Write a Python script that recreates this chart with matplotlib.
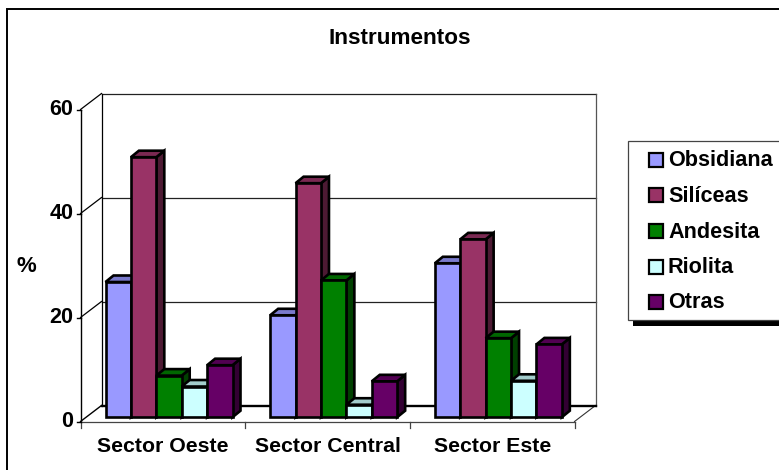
import matplotlib
matplotlib.use("Agg")
import matplotlib.pyplot as plt
from matplotlib.patches import Polygon, Rectangle

plt.rcParams['font.family'] = ['Liberation Sans', 'DejaVu Sans']
plt.rcParams['font.weight'] = 'bold'

title = "Instrumentos"
ylabel = "%"
categories = ["Sector Oeste", "Sector Central", "Sector Este"]
series_names = ["Obsidiana", "Silíceas", "Andesita", "Riolita", "Otras"]
obsidiana = [26.0, 19.6, 29.6]
siliceas = [50.0, 45.0, 34.2]
andesita = [8.0, 26.3, 15.2]
riolita = [5.9, 2.4, 7.0]
otras = [10.0, 6.9, 14.0]
yticks = [0, 20, 40, 60]
front = ["#9999FF", "#993366", "#008000", "#CCFFFF", "#660066"]
top_c = ["#7A7ACC", "#7A2952", "#006600", "#A3CCCC", "#520052"]
side_c = ["#4D4D80", "#4D1A33", "#004000", "#668080", "#330033"]

W, H = 779, 470
fig = plt.figure(figsize=(W/100, H/100), dpi=100)
px = lambda x, y, w, h: [x/W, 1-(y+h)/H, w/W, h/H]

# page layer in pixel units for frame and legend
bg = fig.add_axes([0, 0, 1, 1])
bg.set_xlim(0, W); bg.set_ylim(H, 0); bg.axis('off')
bg.plot([7.5, 7.5, W], [H, 8.5, 8.5], color='black', lw=1.4, solid_joinstyle='miter')

L, R, T, B = 80.5, 574.5, 109.5, 421.5
ax = fig.add_axes(px(L, T, R-L, B-T))
ax.set_xlim(0, 3); ax.set_ylim(0, 60); ax.axis('off')
sx = 3/(R-L); sy = 60/(B-T)
dX, dY = 21*sx, 16*sy          # wall depth
bX, bY = 8*sx, 6.5*sy          # bar depth
base = 4.3*sy
bw = 25.4*sx
start = 25*sx

# walls
for v in yticks[1:]:
    ax.plot([dX, 3+dX], [v+dY, v+dY], color='#222222', lw=0.9, clip_on=False, zorder=1)
    ax.plot([0, dX], [v, v+dY], color='black', lw=0.9, clip_on=False, zorder=1)
ax.plot([dX, dX], [dY, 60+dY], color='black', lw=0.9, clip_on=False, zorder=1)
ax.plot([3+dX, 3+dX], [dY, 60+dY], color='#555555', lw=0.9, clip_on=False, zorder=1)
ax.plot([0, 0], [0, 60], color='black', lw=1.0, clip_on=False, zorder=1)
ax.plot([0, dX], [0, dY], color='black', lw=1.0, clip_on=False, zorder=1)
ax.plot([3, 3+dX], [0, dY], color='#333333', lw=0.8, clip_on=False, zorder=1)
ax.plot([dX, 3+dX], [dY, dY], color='black', lw=1.7, clip_on=False, zorder=1)
ax.plot([0, 3], [0, 0], color='#444444', lw=0.9, clip_on=False, zorder=1)
for i in range(4):
    ax.plot([i, i], [0, -6*sy], color='#444444', lw=0.9, clip_on=False, zorder=1)
for v in yticks:
    ax.plot([0, -4*sx], [v, v], color='black', lw=1.0, clip_on=False, zorder=1)
    ax.text(-7*sx, v, str(v), ha='right', va='center', fontsize=15.5, clip_on=False)

# bars
series = [obsidiana, siliceas, andesita, riolita, otras]
ek = dict(ec='black', lw=1.9, joinstyle='miter', clip_on=False, zorder=3)
for i in range(3):
    for j, vals in enumerate(series):
        x0 = i + start + j*bw
        x1 = x0 + bw
        y0 = base
        y1 = base + vals[i]
        ax.add_patch(Polygon([(x1, y0), (x1+bX, y0+bY), (x1+bX, y1+bY), (x1, y1)], fc=side_c[j], **ek))
        ax.add_patch(Polygon([(x0, y1), (x0+bX, y1+bY), (x1+bX, y1+bY), (x1, y1)], fc=top_c[j], **ek))
        ax.add_patch(Polygon([(x0, y0), (x1, y0), (x1, y1), (x0, y1)], fc=front[j], **ek))
    ax.text(i+0.5, -25*sy, categories[i], ha='center', va='center', fontsize=15.3, clip_on=False)

bg2 = fig.add_axes([0, 0, 1, 1], zorder=5)
bg2.set_xlim(0, W); bg2.set_ylim(H, 0); bg2.axis('off'); bg2.patch.set_alpha(0)
bg2.text(400, 38.5, title, ha='center', va='center', fontsize=16.2)
bg2.text(26, 266, ylabel, ha='center', va='center', fontsize=16)
# legend
bg2.add_patch(Rectangle((633, 320), 160, 6, fc='black', ec='none'))
bg2.add_patch(Rectangle((628, 141), 170, 178.5, fc='white', ec='#444444', lw=0.9))
ys = [159.5, 195, 231, 266.5, 302]
for n, c, y in zip(series_names, front, ys):
    bg2.add_patch(Rectangle((649.5, y-7), 13.5, 14, fc=c, ec='black', lw=1.6))
    bg2.text(668, y+1, n, ha='left', va='center', fontsize=15.6)

fig.savefig("out.png", dpi=100)
